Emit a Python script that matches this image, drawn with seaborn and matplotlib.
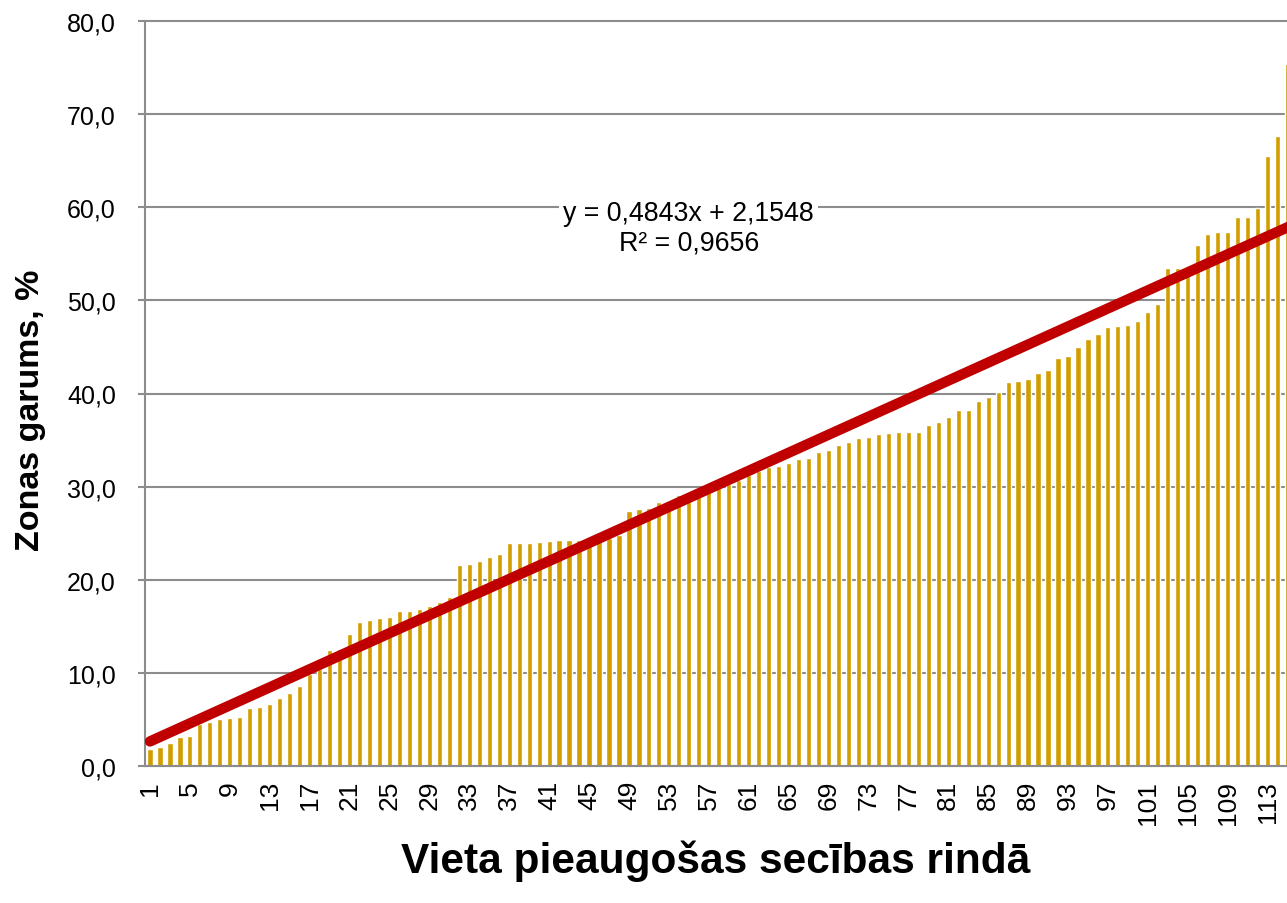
import numpy as np
import pandas as pd
import matplotlib
matplotlib.use("Agg")
import matplotlib.pyplot as plt
import seaborn as sns

# ---- data -------------------------------------------------------------
positions = list(range(1, 116))
zone_length = [
    1.8, 2.0, 2.5, 3.1, 3.2, 4.5, 4.7, 5.0, 5.15, 5.3,
    6.2, 6.3, 6.7, 7.3, 7.8, 8.6, 9.9, 10.4, 12.5, 12.6,
    14.2, 15.5, 15.7, 15.9, 16.0, 16.6, 16.6, 16.9, 17.2, 17.6,
    18.2, 21.6, 21.7, 22.0, 22.4, 22.8, 23.9, 23.95, 23.95, 24.05,
    24.2, 24.25, 24.3, 24.3, 24.35, 24.4, 24.5, 24.8, 27.35, 27.6,
    27.7, 28.35, 28.5, 29.1, 29.3, 29.5, 29.7, 30.1, 30.3, 30.75,
    31.2, 31.7, 32.1, 32.2, 32.5, 33.0, 33.05, 33.7, 33.95, 34.5,
    34.8, 35.25, 35.3, 35.7, 35.75, 35.9, 35.9, 35.9, 36.65, 36.9,
    37.5, 38.2, 38.2, 39.15, 39.65, 40.2, 41.25, 41.35, 41.6, 42.25,
    42.55, 43.8, 44.0, 44.95, 45.8, 46.4, 47.1, 47.3, 47.4, 47.75,
    48.75, 49.6, 53.5, 53.5, 53.6, 55.9, 57.1, 57.35, 57.35, 59.0,
    59.0, 59.9, 65.5, 67.6, 75.4,
]
x_tick_values = list(range(1, 114, 4))
x_tick_labels = [str(v) for v in x_tick_values]
y_tick_values = [0, 10, 20, 30, 40, 50, 60, 70, 80]
y_tick_labels = ["0,0", "10,0", "20,0", "30,0", "40,0", "50,0", "60,0", "70,0", "80,0"]
trend_slope = 0.4843
trend_intercept = 2.1548
trend_r2 = 0.9656
x_title = "Vieta pieaugošas secības rindā"
y_title = "Zonas garums, %"

# ---- style ------------------------------------------------------------
sns.set_theme(style="white")
plt.rcParams["font.family"] = ["Liberation Sans", "DejaVu Sans"]
plt.rcParams["text.color"] = "black"

BAR_COLOR = "#D19D00"
LINE_COLOR = "#C00000"
GRID_COLOR = "#8C8C8C"

W, H = 1287, 904
fig = plt.figure(figsize=(W / 100, H / 100), dpi=100)
ax = fig.add_axes([145 / W, (H - 767) / H, 1 - 145 / W, 745 / H])

df = pd.DataFrame({"pos": positions, "val": zone_length})
sns.barplot(data=df, x="pos", y="val", native_scale=True, color=BAR_COLOR,
            saturation=1, width=0.52, errorbar=None, ax=ax, zorder=2)

trend = pd.DataFrame({"x": [1, 120]})
trend["y"] = trend_slope * trend["x"] + trend_intercept
sns.lineplot(data=trend, x="x", y="y", color=LINE_COLOR, linewidth=7.5,
             solid_capstyle="round", ax=ax, zorder=3)

ax.set_xlim(0.5, 114.95)
ax.set_ylim(0, 80)

ax.set_yticks(y_tick_values)
ax.set_yticklabels(y_tick_labels)
ax.set_xticks(x_tick_values)
ax.set_xticklabels(x_tick_labels, rotation=90)

ax.yaxis.grid(True, color=GRID_COLOR, linewidth=1.5)
ax.xaxis.grid(False)
ax.set_axisbelow(True)
for gl in ax.get_ygridlines():
    gl.set_clip_on(False)

for side in ["top", "right"]:
    ax.spines[side].set_visible(False)
for side in ["left", "bottom"]:
    ax.spines[side].set_color(GRID_COLOR)
    ax.spines[side].set_linewidth(1.5)

ax.tick_params(axis="y", left=True, length=5, width=1.5, color=GRID_COLOR,
               pad=16, labelsize=18, labelcolor="black")
ax.tick_params(axis="x", bottom=False, length=0, pad=10, labelsize=19,
               labelcolor="black")

ax.set_xlabel(x_title, fontsize=30.5, fontweight="bold", color="black")
ax.xaxis.set_label_coords(0.5, -0.127)
ax.xaxis.label.set_va("center")
ax.set_ylabel(y_title, fontsize=24.5, fontweight="bold", color="black")
ax.yaxis.set_label_coords(-0.1, 0.479)
ax.yaxis.label.set_va("center")

eq = f"y = {trend_slope:.4f}x + {trend_intercept:.4f}".replace(".", ",")
r2 = f"R² = {trend_r2:.4f}".replace(".", ",")
ax.text(55, 57.8, eq + "\n" + r2, ha="center", va="center", fontsize=19.3,
        color="black", multialignment="center", linespacing=1.2, zorder=4,
        bbox=dict(facecolor="white", edgecolor="none", pad=3))

fig.savefig("out.png", dpi=100)
